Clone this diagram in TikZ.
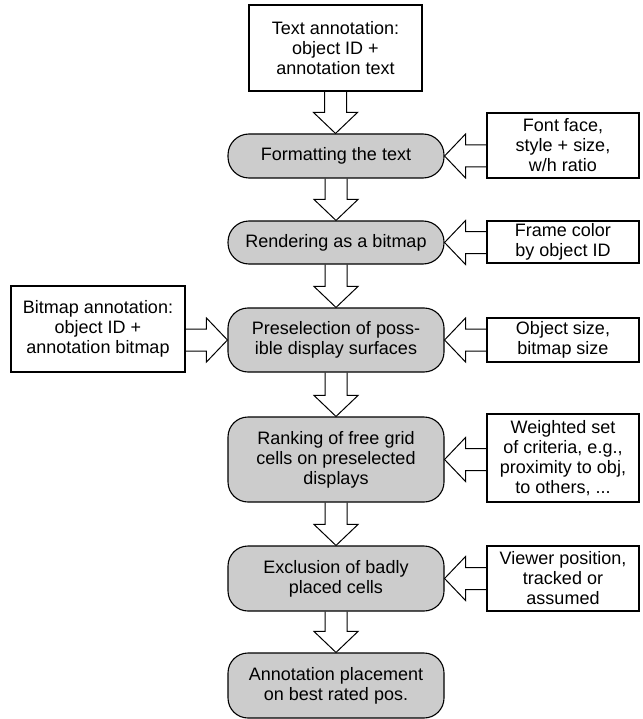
\documentclass[tikz,border=0pt]{standalone}
\usepackage{fontspec}
\setmainfont{Liberation Sans}
\usetikzlibrary{calc}
\begin{document}
\begin{tikzpicture}[x=1pt,y=-1pt,
  every node/.style={font=\fontsize{18}{20}\selectfont, align=center, inner sep=0pt, line width=1.1pt},
  inbox/.style={draw, rectangle, minimum width=152, minimum height=#1},
  stepbox/.style={draw, rectangle, rounded corners=20pt, fill=black!20, minimum width=216, minimum height=#1},
  blk/.style={draw, line width=1pt, line join=miter}
]
\useasboundingbox (0,0) rectangle (642,719);
% main flow
\node[inbox=86, minimum width=173] (top) at (335.5,48) {Text annotation:\\object ID +\\annotation text};
\node[stepbox=44, rounded corners=21pt] (fmt) at (336,156) {Formatting the text};
\node[stepbox=43, rounded corners=21pt] (ren) at (336,242.5) {Rendering as a bitmap};
\node[stepbox=64] (pre) at (336,340) {Preselection of poss-\\ible display surfaces};
\node[stepbox=85] (rank) at (336,459.5) {Ranking of free grid\\cells on preselected\\displays};
\node[stepbox=65] (excl) at (336,578.5) {Exclusion of badly\\placed cells};
\node[stepbox=65] (ann) at (336,685.5) {Annotation placement\\on best rated pos.};
% side inputs
\node[inbox=65] (font) at (563,145.5) {Font face,\\style + size,\\w/h ratio};
\node[inbox=42] (frame) at (563,242) {Frame color\\by object ID};
\node[inbox=86, minimum width=174] (bitmap) at (98,329) {Bitmap annotation:\\object ID +\\annotation bitmap};
\node[inbox=44] (objsize) at (563,340) {Object size,\\bitmap size};
\node[inbox=88] (weighted) at (563,458) {Weighted set\\of criteria, e.g.,\\proximity to obj,\\to others, ...};
\node[inbox=65] (viewer) at (563,578.5) {Viewer position,\\tracked or\\assumed};
% block arrows
\newcommand\downblk[2]{%
  \draw[blk] let \p1=(#1.south), \p2=(#2.north) in
    (\x1-11pt,\y1) -- (\x1-11pt,\y2+21pt) -- (\x1-22pt,\y2+21pt) -- (\x1,\y2)
    -- (\x1+22pt,\y2+21pt) -- (\x1+11pt,\y2+21pt) -- (\x1+11pt,\y1);}
\newcommand\leftblk[2]{%
  \draw[blk] let \p1=(#1.west), \p2=(#2.east) in
    (\x1,\y2+11pt) -- (\x2+21pt,\y2+11pt) -- (\x2+21pt,\y2+22pt) -- (\x2,\y2)
    -- (\x2+21pt,\y2-22pt) -- (\x2+21pt,\y2-11pt) -- (\x1,\y2-11pt);}
\newcommand\rightblk[2]{%
  \draw[blk] let \p1=(#1.east), \p2=(#2.west) in
    (\x1,\y2+11pt) -- (\x2-21pt,\y2+11pt) -- (\x2-21pt,\y2+22pt) -- (\x2,\y2)
    -- (\x2-21pt,\y2-22pt) -- (\x2-21pt,\y2-11pt) -- (\x1,\y2-11pt);}
\downblk{top}{fmt}
\downblk{fmt}{ren}
\downblk{ren}{pre}
\downblk{pre}{rank}
\downblk{rank}{excl}
\downblk{excl}{ann}
\leftblk{font}{fmt}
\leftblk{frame}{ren}
\leftblk{objsize}{pre}
\leftblk{weighted}{rank}
\leftblk{viewer}{excl}
\rightblk{bitmap}{pre}
\end{tikzpicture}
\end{document}
